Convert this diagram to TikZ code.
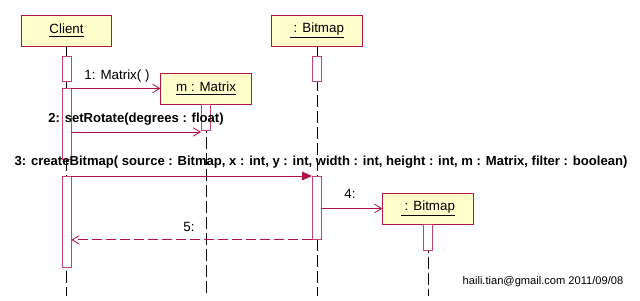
\documentclass[tikz,border=0pt]{standalone}
\usepackage{fontspec}
\setmainfont{Liberation Sans}
\usetikzlibrary{arrows.meta}
\definecolor{umlred}{HTML}{B01446}
\definecolor{umlfill}{HTML}{FFFFCC}

\begin{document}
\begin{tikzpicture}[
  x=0.025cm, y=-0.025cm,
  obj/.style={rectangle, draw=umlred, fill=umlfill, line width=0.7pt, minimum width=2.25cm,
              minimum height=0.775cm, inner sep=0pt, font=\fontsize{9.5}{10}\selectfont},
  act/.style={rectangle, draw=umlred!80, fill=white, line width=0.6pt, minimum width=0.225cm,
              inner sep=0pt, anchor=north},
  life/.style={black, line width=0.6pt, dash pattern=on 0.3cm off 0.1cm},
  msg/.style={umlred, line width=0.6pt, -{Straight Barb[length=5pt, width=6pt]}},
  call/.style={umlred, line width=0.7pt, -{Triangle[length=7pt, width=6pt]}},
  ret/.style={umlred, line width=0.6pt, dash pattern=on 0.25cm off 0.1cm, -{Straight Barb[length=5pt, width=6pt]}},
  lbl/.style={font=\fontsize{9.5}{10}\selectfont, inner sep=0pt},
  blbl/.style={font=\bfseries\fontsize{9.3}{10}\selectfont, inner sep=0pt},
]
  \path[use as bounding box] (0,0) rectangle (640,301);

  % Objects
  \node[obj] (client) at (66.5,30.5) {\underline{Client}};
  \node[obj] (bitmap) at (317,30.5) {\underline{\ : Bitmap}};
  \node[obj] (mtx) at (206,88.5) {\underline{m : Matrix}};
  \node[obj] (nbm) at (428,208.5) {\underline{\ : Bitmap}};

  % Lifelines
  \draw[life] (client.south) -- (66.5,296);
  \draw[life] (bitmap.south) -- (317,296);
  \draw[life] (mtx.south) -- (206,296);
  \draw[life] (nbm.south) -- (428,296);

  % Activations
  \node[act, minimum height=0.625cm] (ca1) at (66.5,56) {};
  \node[act, minimum height=1.775cm] (ca2) at (66.5,88) {};
  \node[act, minimum height=2.275cm] (ca3) at (66.5,176) {};
  \node[act, minimum height=0.625cm] (ba1) at (317,56) {};
  \node[act, minimum height=1.575cm] (ba2) at (317,176) {};
  \node[act, minimum height=0.65cm] (ma) at (206,104) {};
  \node[act, minimum height=0.65cm] (na) at (428,224) {};

  % Messages
  \coordinate (y2) at (0,132);
  \draw[msg] (ca2.east |- mtx.west) -- (mtx.west);
  \draw[msg] (ca2.east |- y2) -- (ma.west |- y2);
  \draw[call] (ca3.north east) -- (ba2.north west);
  \draw[msg] (ba2.east |- nbm.west) -- (nbm.west);
  \draw[ret] (ba2.south west) -- (ca3.east |- ba2.south west);

  % Labels
  \node[lbl] (l1) at (117,76) {1: Matrix( )};
  \node[blbl] (l2) at (136,119) {2: setRotate(degrees : float)};
  \node[blbl] (l3) at (321,162) {3: createBitmap( source : Bitmap, x : int, y : int, width : int, height : int, m : Matrix, filter : boolean)};
  \node[lbl] (l4) at (350,194) {4:};
  \node[lbl] (l5) at (189,227) {5:};
  \node[font=\fontsize{7.9}{9}\selectfont, inner sep=0pt] (sig) at (543,282) {haili.tian@gmail.com 2011/09/08};
\end{tikzpicture}
\end{document}
